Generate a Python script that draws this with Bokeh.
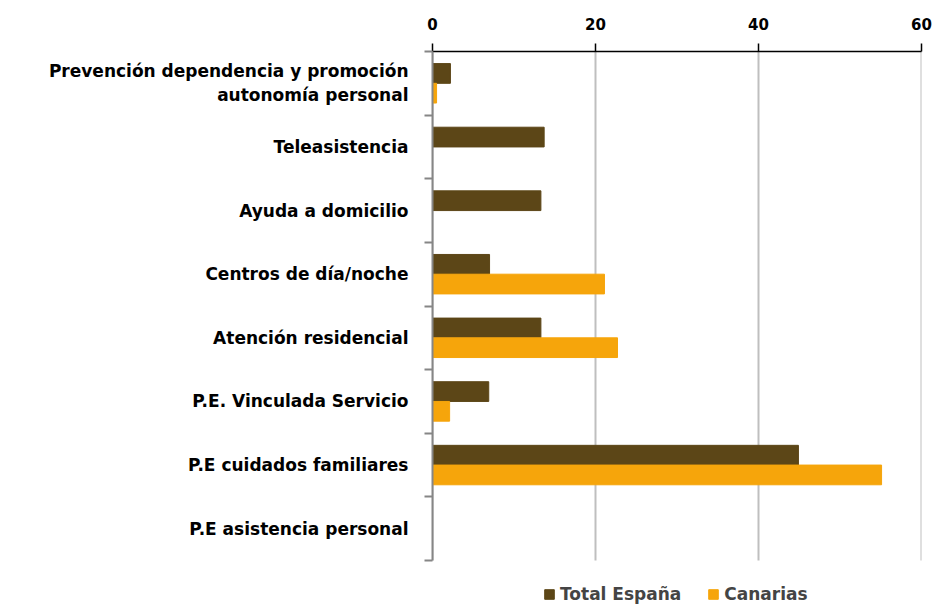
from bokeh.plotting import figure
from bokeh.models import (Range1d, LinearAxis, FixedTicker, Legend, LegendItem, ColumnDataSource)
from bokeh.embed import file_html
from bokeh.resources import INLINE

categories = [
    "Prevención dependencia y promoción\nautonomía personal",
    "Teleasistencia",
    "Ayuda a domicilio",
    "Centros de día/noche",
    "Atención residencial",
    "P.E. Vinculada Servicio",
    "P.E cuidados familiares",
    "P.E asistencia personal",
]
total_espana = [2.2, 13.7, 13.3, 7.0, 13.3, 6.9, 44.9, 0.0]
canarias = [0.5, 0.0, 0.0, 21.1, 22.7, 2.1, 55.1, 0.0]
x_ticks = [0, 20, 40, 60]
series_names = ["Total España", "Canarias"]
colors = ["#5C4617", "#F6A50B"]

FONT = "DejaVu Sans"
n = len(categories)
# category slots: first category at the top
centers = [n - i - 0.5 for i in range(n)]
bar_h = 0.31

SLOT_PX = 509 / n          # pixel height of one category slot
LEGEND_PX = 46             # room under the categories for the legend

p = figure(
    y_range=Range1d(-LEGEND_PX / SLOT_PX, n),
    x_range=Range1d(0, 60),
    frame_width=489, frame_height=509 + LEGEND_PX,
    output_backend="svg", toolbar_location=None,
    x_axis_location="above", y_axis_location=None,
    min_border_left=432, min_border_right=12,
    min_border_top=51, min_border_bottom=0,
)
p.outline_line_color = None
p.background_fill_color = "white"
p.border_fill_color = "white"

# vertical gridlines, limited to the category area
grid_src = ColumnDataSource(dict(x=x_ticks, y0=[0] * len(x_ticks), y1=[n] * len(x_ticks)))
p.segment(x0="x", x1="x", y0="y0", y1="y1", line_color="#BFBFBF", line_width=2, source=grid_src)

src = ColumnDataSource(dict(
    cat=categories, total=total_espana, can=canarias,
    y_total=[c + bar_h / 2 for c in centers],
    y_can=[c - bar_h / 2 for c in centers],
))
r1 = p.hbar(y="y_total", left=0, right="total", height=bar_h, color=colors[0], source=src)
r2 = p.hbar(y="y_can", left=0, right="can", height=bar_h, color=colors[1], source=src)

# top x axis
xa = p.xaxis[0]
xa.ticker = FixedTicker(ticks=x_ticks)
xa.axis_line_color = "black"
xa.axis_line_width = 1.5
xa.major_tick_line_color = "black"
xa.major_tick_line_width = 1.5
xa.major_tick_out = 8
xa.major_tick_in = 0
xa.minor_tick_line_color = None
xa.major_label_standoff = 14
xa.major_label_text_font = FONT
xa.major_label_text_font_style = "bold"
xa.major_label_text_font_size = "15px"
xa.major_label_text_color = "black"

p.xgrid.visible = False
p.ygrid.visible = False

# boundary tick axis (gray, ticks between categories)
bounds = list(range(n + 1))
tick_axis = LinearAxis(
    ticker=FixedTicker(ticks=bounds),
    bounds=(0, n),
    major_label_overrides={b: "" for b in bounds},
    axis_line_color="#868686", axis_line_width=2,
    major_tick_line_color="#868686", major_tick_line_width=2,
    major_tick_out=8, major_tick_in=0,
    minor_tick_line_color=None, major_label_standoff=0,
)
p.add_layout(tick_axis, "left")

label_axis = LinearAxis(
    ticker=FixedTicker(ticks=centers),
    major_label_overrides={c: cat for c, cat in zip(centers, categories)},
    axis_line_color=None, major_tick_line_color=None, minor_tick_line_color=None,
    major_label_text_font=FONT, major_label_text_font_style="bold",
    major_label_text_font_size="17px", major_label_text_color="black",
    major_label_standoff=10,
)
p.add_layout(label_axis, "left")

legend = Legend(
    items=[LegendItem(label=series_names[0], renderers=[r1]),
           LegendItem(label=series_names[1], renderers=[r2])],
    orientation="horizontal", location=(111, 2),
    glyph_width=12, glyph_height=12, label_height=14,
    label_text_font=FONT, label_text_font_style="bold", label_text_font_size="17px",
    label_standoff=5, spacing=26, padding=0, margin=0,
    border_line_color=None, background_fill_alpha=0,
)
p.add_layout(legend, "center")

open("out.html", "w").write(file_html(p, INLINE))
